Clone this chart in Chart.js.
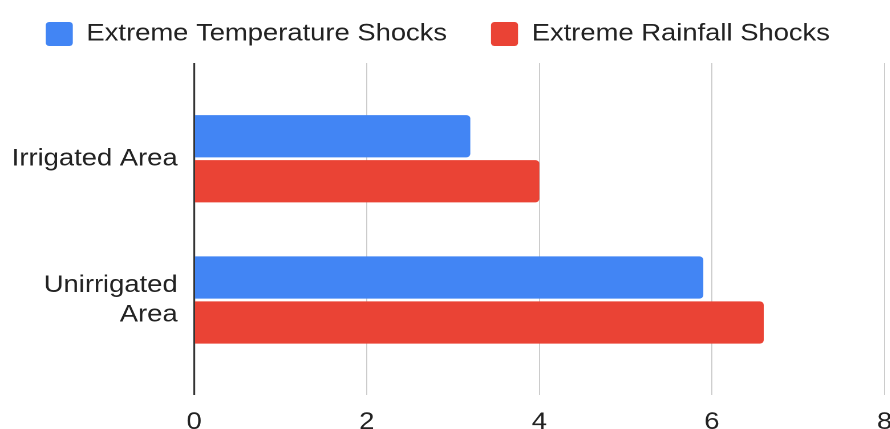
<!DOCTYPE html>
<html>
<head>
<meta charset="utf-8">
<script src="https://cdn.jsdelivr.net/npm/chart.js@4.4.1/dist/chart.umd.min.js"></script>
<style>
  html, body { margin: 0; padding: 0; background: #fff; overflow: hidden; }
  /* the reference text is a bit wider than Arial, so the chart is drawn narrower and stretched */
  #wrap { width: 780.7px; height: 429px; transform: scaleX(1.14); transform-origin: 0 0; }
</style>
</head>
<body>
<div id="wrap"><canvas id="chart"></canvas></div>
<script>
// data
const categories = ['Irrigated Area', ['Unirrigated', 'Area']];
const seriesNames = ['Extreme Temperature Shocks', 'Extreme Rainfall Shocks'];
const temperatureShocks = [3.2, 5.9];
const rainfallShocks = [4.0, 6.6];
const xTicks = [0, 2, 4, 6, 8];

const fontFamily = "'Liberation Sans', Arial, sans-serif";
Chart.defaults.font.family = fontFamily;
Chart.defaults.color = '#222';

const ctx = document.getElementById('chart').getContext('2d');
new Chart(ctx, {
  type: 'bar',
  data: {
    labels: categories,
    datasets: [
      { label: seriesNames[0], data: temperatureShocks, backgroundColor: '#4285F4' },
      { label: seriesNames[1], data: rainfallShocks, backgroundColor: '#EA4335' }
    ]
  },
  options: {
    indexAxis: 'y',
    responsive: true,
    maintainAspectRatio: false,
    devicePixelRatio: 2,
    animation: false,
    categoryPercentage: 0.637,
    barPercentage: 0.94,
    elements: { bar: { borderRadius: 3.5, borderSkipped: 'start' } },
    layout: { padding: { top: -16.5, left: 1.6, right: 5.3, bottom: 0 } },
    plugins: {
      legend: {
        position: 'top',
        align: 'start',
        labels: {
          boxWidth: 23.7,
          boxHeight: 24,
          padding: 38.5,
          useBorderRadius: true,
          borderRadius: 3,
          font: { size: 24 },
          color: '#222'
        }
      },
      // empty title used as a small gap under the legend
      title: { display: true, text: '', weight: 500, padding: 0, font: { size: 7, lineHeight: 1 } },
      tooltip: { enabled: false }
    },
    scales: {
      x: {
        min: 0,
        max: 8,
        afterBuildTicks: s => { s.ticks = xTicks.map(v => ({ value: v })); },
        afterFit: s => { s.height = 34; s.paddingLeft = 0; s.paddingRight = 0; },
        border: { display: false },
        grid: {
          drawTicks: false,
          color: c => c.tick && c.tick.value === 0 ? '#333' : '#ccc',
          lineWidth: c => c.tick && c.tick.value === 0 ? 1.6 : 1
        },
        ticks: { padding: 13, font: { size: 24 }, color: '#222' }
      },
      y: {
        // place the two groups where the reference has them
        afterBuildTicks: s => { s._startValue = -0.6774; s._valueRange = 2.3496; },
        afterFit: s => { s.width = 168.6; s.paddingTop = 0; s.paddingBottom = 0; },
        border: { display: false },
        grid: { display: false, drawTicks: false },
        ticks: { padding: 14.5, font: { size: 24, lineHeight: 1.224 }, color: '#222' }
      }
    }
  }
});
</script>
</body>
</html>
